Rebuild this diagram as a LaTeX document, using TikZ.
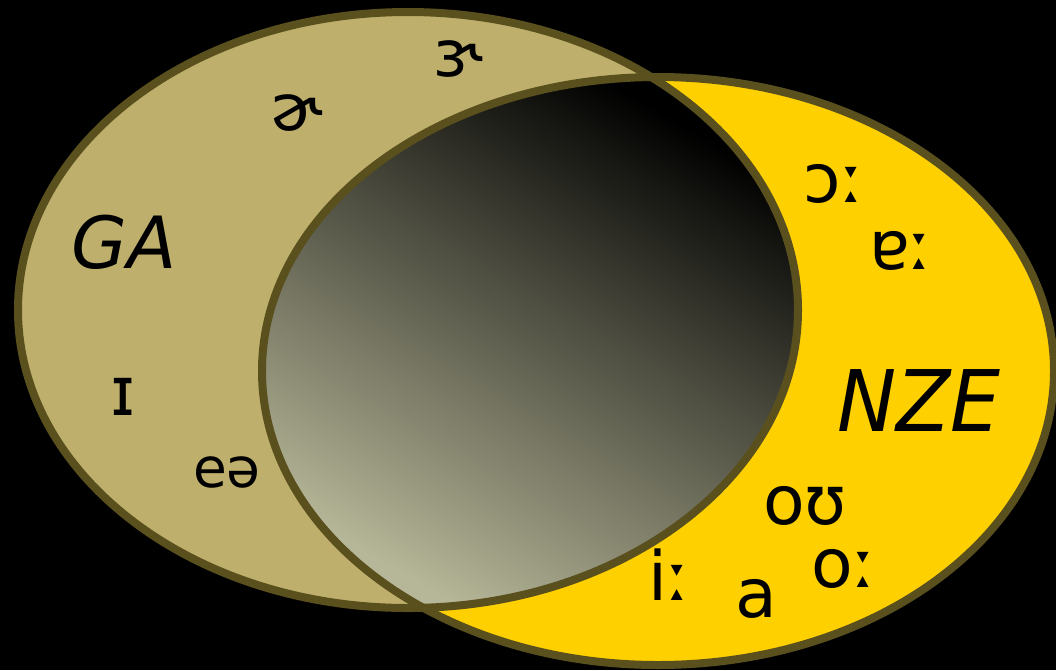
\documentclass[tikz,border=0pt]{standalone}
\usepackage{fontspec}
\setmainfont{DejaVu Sans}
\definecolor{gafill}{RGB}{190,176,108}
\definecolor{nzefill}{RGB}{255,208,0}
\definecolor{rim}{RGB}{90,80,30}
\definecolor{lightgrey}{RGB}{182,182,152}
\begin{document}
\begin{tikzpicture}[x=1pt,y=-1pt,
  ipa/.style={inner sep=0pt, font=\fontsize{68}{68}\selectfont},
  ipasmall/.style={inner sep=0pt, font=\fontsize{64}{64}\selectfont},
  lab/.style={inner sep=0pt, font=\fontsize{72}{72}\selectfont\itshape},
  rimline/.style={draw=rim, line width=8pt}]
\fill[black] (0,0) rectangle (1056,670);
\useasboundingbox (0,0) rectangle (1056,670);
\coordinate (cl) at (408,310);
\coordinate (cr) at (658,371);
\fill[gafill] (cl) ellipse [x radius=390pt, y radius=298pt];
\fill[nzefill] (cr) ellipse [x radius=396pt, y radius=294pt];
\begin{scope}
  \clip (cl) ellipse [x radius=390pt, y radius=298pt];
  \clip (cr) ellipse [x radius=396pt, y radius=294pt];
  \shade[top color=black, bottom color=lightgrey, shading angle=-30] (262,77) rectangle (800,608);
\end{scope}
\draw[rimline] (cl) ellipse [x radius=390pt, y radius=298pt];
\draw[rimline] (cr) ellipse [x radius=396pt, y radius=294pt];
% GA labels
\node[lab] (ga) at (124,242) {GA};
\node[ipasmall] (er1) at (458,59) {ɝ};
\node[ipasmall] (er2) at (297,113) {ɚ};
\node[ipa] (ih) at (123,397) {ɪ};
\node[inner sep=0pt, font=\fontsize{55}{55}\selectfont] (ea) at (227,472) {eə};
% NZE labels
\node[lab, font=\fontsize{85}{85}\selectfont\itshape, xscale=0.93] (nze) at (919,401) {NZE};
\node[ipa] (aw) at (834,184) {ɔː};
\node[ipa] (ar) at (901,251) {ɐː};
\node[ipa] (ou) at (805,506) {oʊ};
\node[ipa] (iy) at (669,575) {iː};
\node[ipa] (a) at (756,599) {a};
\node[ipa] (oo) at (844,569) {oː};
\end{tikzpicture}
\end{document}
